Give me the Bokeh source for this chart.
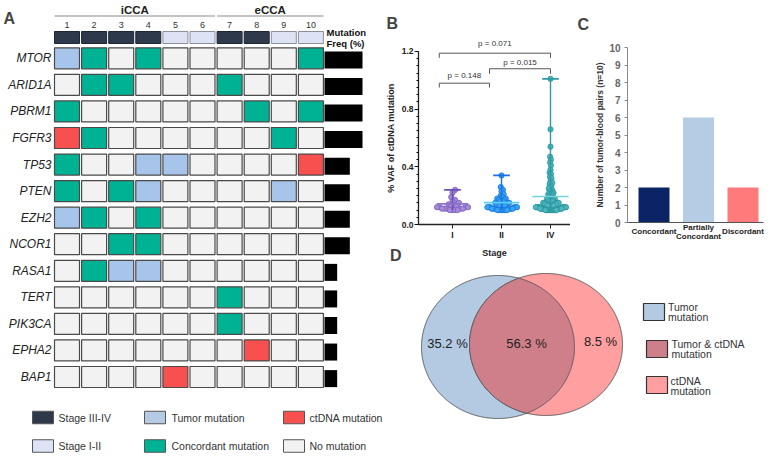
import numpy as np
from bokeh.plotting import figure
from bokeh.models import Range1d, FixedTicker, Label, ColumnDataSource, PrintfTickFormatter
from bokeh.layouts import row, column
from bokeh.embed import file_html
from bokeh.resources import INLINE
from bokeh.core.properties import value

FONT = "Liberation Sans"

# ---------------- data ----------------
genes = ["MTOR", "ARID1A", "PBRM1", "FGFR3", "TP53", "PTEN", "EZH2",
         "NCOR1", "RASA1", "TERT", "PIK3CA", "EPHA2", "BAP1"]
patients = [1, 2, 3, 4, 5, 6, 7, 8, 9, 10]
cohort_names = ["iCCA", "eCCA"]
cohort_first = [1, 7]
cohort_last = [6, 10]
patient_stage = ["III-IV", "III-IV", "III-IV", "III-IV", "I-II",
                 "I-II", "III-IV", "III-IV", "I-II", "I-II"]
# T = tumor mutation, C = concordant, D = ctDNA mutation, N = no mutation
gene_status = {
    "MTOR":   ["T", "C", "N", "C", "N", "N", "N", "N", "N", "C"],
    "ARID1A": ["N", "C", "C", "N", "N", "N", "C", "N", "N", "N"],
    "PBRM1":  ["C", "N", "N", "N", "N", "N", "N", "C", "N", "C"],
    "FGFR3":  ["D", "C", "N", "N", "N", "N", "N", "N", "C", "N"],
    "TP53":   ["C", "N", "N", "T", "T", "N", "N", "N", "N", "D"],
    "PTEN":   ["C", "N", "C", "T", "N", "N", "N", "N", "T", "N"],
    "EZH2":   ["T", "C", "N", "C", "N", "N", "N", "N", "N", "N"],
    "NCOR1":  ["N", "N", "C", "C", "N", "N", "N", "N", "N", "N"],
    "RASA1":  ["N", "C", "T", "T", "N", "N", "N", "N", "N", "N"],
    "TERT":   ["N", "N", "N", "N", "N", "N", "C", "N", "N", "N"],
    "PIK3CA": ["N", "N", "N", "N", "N", "N", "C", "N", "N", "N"],
    "EPHA2":  ["N", "N", "N", "N", "N", "N", "N", "D", "N", "N"],
    "BAP1":   ["N", "N", "N", "N", "D", "N", "N", "N", "N", "N"],
}
mutation_freq = [30, 30, 30, 30, 20, 20, 20, 20, 10, 10, 10, 10, 10]

stage_names = ["I", "II", "IV"]
vaf_I = [0.24, 0.22, 0.19, 0.17, 0.16, 0.15, 0.14, 0.13, 0.13, 0.13,
         0.12, 0.12, 0.12, 0.12, 0.11, 0.11, 0.11, 0.11, 0.11,
         0.10, 0.10, 0.10, 0.10]
vaf_II = [0.34, 0.26, 0.24, 0.23, 0.21, 0.20, 0.19, 0.18, 0.18, 0.17, 0.17,
          0.16, 0.16, 0.16, 0.15, 0.15, 0.15, 0.14, 0.14, 0.14,
          0.13, 0.13, 0.13, 0.13, 0.13, 0.12, 0.12, 0.12, 0.12, 0.12, 0.12,
          0.11, 0.11, 0.11, 0.11, 0.11, 0.11, 0.11, 0.11,
          0.10, 0.10, 0.10, 0.10, 0.10, 0.10, 0.10, 0.10]
vaf_IV = [1.01, 0.66, 0.54, 0.47, 0.45, 0.43, 0.41, 0.38, 0.36, 0.35, 0.33,
          0.32, 0.30, 0.29, 0.28, 0.27, 0.26, 0.25, 0.24, 0.23, 0.23, 0.22,
          0.22, 0.21, 0.21, 0.20, 0.20, 0.19, 0.19, 0.18, 0.18, 0.18, 0.17,
          0.17, 0.17, 0.16, 0.16, 0.16, 0.16, 0.15, 0.15, 0.15, 0.15, 0.15,
          0.14, 0.14, 0.14, 0.14, 0.14, 0.14,
          0.13, 0.13, 0.13, 0.13, 0.13, 0.13, 0.13, 0.13,
          0.12, 0.12, 0.12, 0.12, 0.12, 0.12, 0.12, 0.12, 0.12, 0.12,
          0.11, 0.11, 0.11, 0.11, 0.11, 0.11, 0.11, 0.11, 0.11, 0.11, 0.11, 0.11,
          0.10, 0.10, 0.10, 0.10, 0.10, 0.10, 0.10, 0.10, 0.10, 0.10, 0.10,
          0.10, 0.10, 0.10]
vaf_center_line = [0.143, 0.152, 0.194]
p_texts = ["p = 0.148", "p = 0.015", "p = 0.071"]
bracket_left = [-0.27, 0.755, -0.27]
bracket_right = [0.755, 2.0, 2.0]
bracket_level = [0.98, 1.08, 1.188]
bracket_drop = [0.95, 1.045, 1.156]
p_text_level = [1.03, 1.125, 1.253]

pair_categories = ["Concordant", "Partially\nConcordant", "Discordant"]
pair_counts = [2, 6, 2]

venn_pct = [35.2, 56.3, 8.5]
venn_legend = [["Tumor", "mutation"], ["Tumor & ctDNA", "mutation"], ["ctDNA", "mutation"]]

# ---------------- layout (page pixels) ----------------
WA, HT = 385, 456
WB, WC = 185, 202
HB = 262
HD = HT - HB
WD = WB + WC
XB, XC = WA, WA + WB


def base_fig(w, h, xr, yr, axes=False):
    kw = {} if axes else dict(x_axis_type=None, y_axis_type=None)
    f = figure(width=w, height=h, x_range=xr, y_range=yr, output_backend="svg",
               toolbar_location=None, outline_line_color=None, min_border=0, **kw)
    f.grid.visible = False
    return f


def letter(fig, x, y, t):
    fig.add_layout(Label(x=x, y=y, text=t, text_font=FONT, text_font_size="16px",
                         text_font_style="bold", text_baseline="top", text_align="left"))


# ================= Panel A =================
def a_x(r):
    return 1 + (r - 66.5) / 27.1


def a_y(r):
    return (r - 57.8) / 26.56


def f_x(r):
    return (r - 324) / 38 * 30


fa = base_fig(WA, HT, Range1d(a_x(0), a_x(WA)), Range1d(a_y(HT), a_y(0)))
fa.extra_x_ranges = {"freq": Range1d(f_x(0), f_x(WA))}

code_color = {"T": "#a7c5ea", "C": "#00b294", "D": "#f84f4f", "N": "#f2f2f2"}
stage_color = {"III-IV": "#2e394c", "I-II": "#dde3f4"}
stage_edge = {"III-IV": "#1e2533", "I-II": "#8c909a"}

cx, cy, cc = [], [], []
for gi, g in enumerate(genes):
    for pi, code in enumerate(gene_status[g]):
        cx.append(patients[pi]); cy.append(gi); cc.append(code_color[code])
fa.rect(x="x", y="y", width=25 / 27.1, height=21 / 26.56, fill_color="c",
        line_color="#4a4a4a", line_width=1.2,
        source=ColumnDataSource(dict(x=cx, y=cy, c=cc)))

fa.rect(x=patients, y=a_y(37), width=25 / 27.1, height=12 / 26.56,
        fill_color=[stage_color[s] for s in patient_stage],
        line_color=[stage_edge[s] for s in patient_stage], line_width=1)

fa.text(x=patients, y=a_y(24.5), text=[str(p) for p in patients],
        text_font=value(FONT), text_font_size="9px", text_color="#333333",
        text_align="center", text_baseline="middle")

fa.text(x=[(a + b) / 2 for a, b in zip(cohort_first, cohort_last)], y=a_y(9.5),
        text=cohort_names, text_font=value(FONT), text_font_size="11.5px",
        text_font_style="bold", text_color="#222222",
        text_align="center", text_baseline="middle")
fa.segment(x0=[a - 0.46 for a in cohort_first], x1=[b + 0.46 for b in cohort_last],
           y0=a_y(15.5), y1=a_y(15.5), line_color="#8a8a8a", line_width=1.2)

fa.text(x=a_x(51), y=list(range(len(genes))), text=genes, text_font=value(FONT),
        text_font_size="12px", text_font_style="italic", text_color="#222222",
        text_align="right", text_baseline="middle")

fa.hbar(y=[i + 0.06 for i in range(len(genes))], left=0, right=mutation_freq,
        height=17 / 26.56, x_range_name="freq", fill_color="black", line_color=None)
fa.text(x=a_x(326), y=[a_y(31.5), a_y(42.5)], text=["Mutation", "Freq (%)"],
        text_font=value(FONT), text_font_size="9.5px", text_font_style="bold",
        text_color="#111111", text_align="left", text_baseline="middle")

letter(fa, a_x(3), a_y(9), "A")

leg_rows = [["Stage III-IV", "Tumor mutation", "ctDNA mutation"],
            ["Stage I-II", "Concordant mutation", "No mutation"]]
leg_cols = [[stage_color["III-IV"], "#b5cae4", code_color["D"]],
            [stage_color["I-II"], code_color["C"], code_color["N"]]]
leg_sw_x = [a_x(42.5), a_x(154.5), a_x(293.5)]
leg_tx_x = [a_x(58), a_x(171), a_x(309)]
leg_y = [a_y(417), a_y(445.5)]
for ri in range(2):
    fa.rect(x=leg_sw_x, y=leg_y[ri], width=21 / 27.1, height=12.5 / 26.56,
            fill_color=leg_cols[ri], line_color="#555555", line_width=1)
    fa.text(x=leg_tx_x, y=leg_y[ri], text=leg_rows[ri], text_font=value(FONT),
            text_font_size="10.5px", text_color="#333333", text_align="left",
            text_baseline="middle")

# ================= Panel B =================
def b_x(r):
    return (r - 452) / 49


def b_y(r):
    return (224 - r) / 144.2


fb = base_fig(WB, HB, Range1d(b_x(XB), b_x(XB + WB)), Range1d(b_y(HB), b_y(0)), axes=True)


def swarm(vals, ppy, ppx, d=5.2, half=15.5):
    vals = np.asarray(vals, float)
    order = np.argsort(vals, kind="stable")
    placed = []
    offs = np.zeros(len(vals))
    step = d * 0.55
    cands = [0.0]
    for k in range(1, 100):
        cands += [k * step, -k * step]
    for i in order:
        yy = vals[i] * ppy
        for c in cands:
            if all((c - px) ** 2 + (yy - py) ** 2 >= (d * 0.9) ** 2 for px, py in placed):
                break
        placed.append((c, yy))
        offs[i] = c
    m = np.abs(offs).max()
    if m > half:
        offs = offs * half / m
    return offs / ppx


groups = [vaf_I, vaf_II, vaf_IV]
pt_fill = ["#a68bd6", "#3aa3f3", "#4cb7be"]
pt_edge = ["#7a5cc2", "#1778e0", "#2b969e"]
rng_col = ["#6c4fb5", "#1e6fe6", "#2e9aa3"]
mid_col = ["#8d72cc", "#5fd0f5", "#72d3da"]
mid_half = [0.32, 0.36, 0.37]
for gi, vals in enumerate(groups):
    offs = swarm(vals, 144.2, 49)
    fb.scatter(x=gi + offs, y=vals, size=5.3, fill_color=pt_fill[gi],
               line_color=pt_edge[gi], line_width=0.8)
for gi, vals in enumerate(groups):
    fb.segment(x0=gi, x1=gi, y0=min(vals), y1=max(vals), line_color=rng_col[gi], line_width=1.4)
    fb.segment(x0=gi - 0.17, x1=gi + 0.17, y0=max(vals), y1=max(vals),
               line_color=rng_col[gi], line_width=1.8)
    fb.segment(x0=gi - mid_half[gi], x1=gi + mid_half[gi], y0=vaf_center_line[gi],
               y1=vaf_center_line[gi], line_color=mid_col[gi], line_width=1.6)

fb.multi_line(xs=[[l, l, r, r] for l, r in zip(bracket_left, bracket_right)],
              ys=[[d, h, h, d] for h, d in zip(bracket_level, bracket_drop)],
              line_color="#555555", line_width=1)
fb.text(x=[(l + r) / 2 for l, r in zip(bracket_left, bracket_right)], y=p_text_level,
        text=p_texts, text_font=value(FONT), text_font_size="8px", text_color="#333333",
        text_align="center", text_baseline="middle")

fb.xaxis.fixed_location = 0
fb.xaxis.bounds = (b_x(418), b_x(571))
fb.yaxis.fixed_location = b_x(418)
fb.xaxis.ticker = FixedTicker(ticks=[0, 1, 2])
fb.xaxis.major_label_overrides = {0: "I", 1: "II", 2: "IV"}
fb.xaxis.axis_label = "Stage"
fb.yaxis.ticker = FixedTicker(ticks=[0, 0.4, 0.8, 1.2],
                              minor_ticks=[round(0.05 * k, 2) for k in range(25)])
fb.yaxis.formatter = PrintfTickFormatter(format="%.1f")
fb.yaxis.bounds = (0, 1.2)
fb.yaxis.axis_label = "% VAF of ctDNA mutation"
for ax in (fb.xaxis[0], fb.yaxis[0]):
    ax.axis_line_color = "#222222"
    ax.axis_line_width = 1.3
    ax.major_tick_line_color = "#222222"
    ax.major_tick_in = 0
    ax.major_tick_out = 4
    ax.minor_tick_in = 0
    ax.minor_tick_out = 2
    ax.major_label_text_font = FONT
    ax.major_label_text_font_size = "8.5px"
    ax.major_label_text_font_style = "bold"
    ax.major_label_text_color = "#222222"
    ax.axis_label_text_font = FONT
    ax.axis_label_text_font_size = "9px"
    ax.axis_label_text_font_style = "bold"
    ax.axis_label_text_color = "#222222"
fb.xaxis.minor_tick_line_color = None
fb.xaxis.major_label_standoff = 1
fb.xaxis.axis_label_standoff = 5
fb.yaxis.major_label_standoff = 1
fb.yaxis.axis_label_standoff = 3

letter(fb, b_x(386), b_y(14), "B")
letter(fb, b_x(389.5), b_y(246), "D")

# ================= Panel C =================
def c_x(r):
    return (r - 653.5) / 44.5


def c_y(r):
    return (222 - r) / 17.5


fc = base_fig(WC, HB, Range1d(c_x(XC), c_x(XC + WC)), Range1d(c_y(HB), c_y(0)), axes=True)
cat_idx = list(range(len(pair_categories)))
fc.vbar(x=cat_idx, top=pair_counts, width=31 / 44.5, bottom=0,
        fill_color=["#0b2466", "#b5cce4", "#ff7b7b"], line_color=None)
fc.text(x=cat_idx, y=c_y(231), text=pair_categories, text_font=value(FONT),
        text_font_size="8px", text_font_style="bold", text_color="#222222",
        text_align="center", text_baseline="middle", text_line_height=1.0)
fc.xaxis.fixed_location = 0
fc.xaxis.bounds = (c_x(627), c_x(763))
fc.yaxis.fixed_location = c_x(627)
fc.xaxis.ticker = FixedTicker(ticks=[])
fc.yaxis.ticker = FixedTicker(ticks=list(range(11)))
fc.yaxis.bounds = (0, 10)
fc.yaxis.axis_label = "Number of tumor-blood pairs (n=10)"
for ax in (fc.xaxis[0], fc.yaxis[0]):
    ax.minor_tick_line_color = None
    ax.major_label_text_font = FONT
    ax.major_label_text_font_style = "bold"
    ax.axis_label_text_font = FONT
    ax.axis_label_text_font_style = "bold"
    ax.axis_label_text_font_size = "8.5px"
    ax.axis_label_text_color = "#333333"
fc.xaxis.axis_line_color = "#555555"
fc.xaxis.major_tick_line_color = None
fc.yaxis.axis_line_color = "#888888"
fc.yaxis.major_tick_line_color = "#888888"
fc.yaxis.major_tick_in = 0
fc.yaxis.major_tick_out = 3
fc.yaxis.major_label_text_font_size = "10px"
fc.yaxis.major_label_text_color = "#666666"
fc.yaxis.major_label_standoff = 4
fc.yaxis.axis_label_standoff = 1
letter(fc, c_x(577), c_y(15), "C")

# ================= Panel D =================
fd = base_fig(WD, HD, Range1d(XB, XB + WD), Range1d(HT, HB))

L = dict(cx=497.5, cy=346.5, rx=76.5, ry=71.5)
R = dict(cx=545.5, cy=344.0, rx=76.5, ry=71.0)
t = np.linspace(-np.pi, np.pi, 721)


def ell(e, tt):
    return e["cx"] + e["rx"] * np.cos(tt), e["cy"] + e["ry"] * np.sin(tt)


def inside(e, x, y):
    return ((x - e["cx"]) / e["rx"]) ** 2 + ((y - e["cy"]) / e["ry"]) ** 2 <= 1


lx_, ly_ = ell(L, t)
rx_, ry_ = ell(R, t)
mL = inside(R, lx_, ly_)
t2 = np.linspace(0, 2 * np.pi, 721)
rx2, ry2 = ell(R, t2)
mR = inside(L, rx2, ry2)
lens_x = list(lx_[mL]) + list(rx2[mR])
lens_y = list(ly_[mL]) + list(ry2[mR])

fd.patch(lx_, ly_, fill_color="#b3cae2", line_color="#5a5a5a", line_width=1)
fd.patch(rx_, ry_, fill_color="#ff9f9f", line_color="#5a5a5a", line_width=1)
fd.patch(lens_x, lens_y, fill_color="#cf7f8a", line_color="#5a5a5a", line_width=1)

fd.text(x=[447, 526, 600], y=[343, 343, 341], text=[f"{v} %" for v in venn_pct],
        text_font=value(FONT), text_font_size="13px", text_color="#222222",
        text_align="center", text_baseline="middle")

fd.rect(x=[653.5, 656.5, 656.5], y=[311.5, 348.5, 384.5], width=21, height=17,
        fill_color=["#b3cae2", "#cd7f8a", "#ff9f9f"], line_color="#333333", line_width=1.2)
leg_tx = [667.5, 671, 670]
leg_ly = [[306.5, 316.5], [343.5, 353.5], [380, 390]]
for i in range(3):
    fd.text(x=leg_tx[i], y=leg_ly[i], text=venn_legend[i], text_font=value(FONT),
            text_font_size="10.5px", text_color="#333333", text_align="left",
            text_baseline="middle")

layout = row(fa, column(row(fb, fc), fd))
open("out.html", "w").write(file_html(layout, INLINE))
